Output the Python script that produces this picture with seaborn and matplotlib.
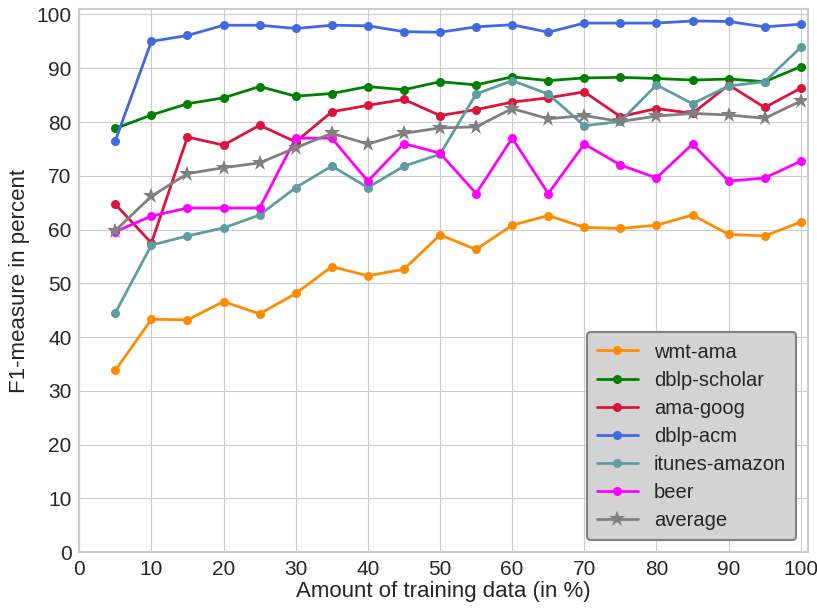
import seaborn as sns
import matplotlib.pyplot as plt
import pandas as pd

train_pct = [5, 10, 15, 20, 25, 30, 35, 40, 45, 50,
             55, 60, 65, 70, 75, 80, 85, 90, 95, 100]

wmt_ama = [33.8, 43.3, 43.2, 46.6, 44.3, 48.1, 53.1, 51.4, 52.6, 59.0,
           56.3, 60.8, 62.6, 60.4, 60.2, 60.8, 62.7, 59.1, 58.8, 61.4]
dblp_scholar = [78.8, 81.3, 83.4, 84.5, 86.6, 84.8, 85.3, 86.6, 86.0, 87.5,
                86.9, 88.4, 87.7, 88.2, 88.3, 88.1, 87.8, 88.0, 87.5, 90.3]
ama_goog = [64.7, 57.5, 77.2, 75.7, 79.4, 76.3, 81.9, 83.1, 84.2, 81.2,
            82.3, 83.7, 84.5, 85.6, 81.0, 82.5, 81.6, 86.9, 82.7, 86.3]
dblp_acm = [76.5, 95.0, 96.1, 98.0, 98.0, 97.4, 98.0, 97.9, 96.8, 96.7,
            97.7, 98.1, 96.7, 98.4, 98.4, 98.4, 98.8, 98.7, 97.7, 98.2]
itunes_amazon = [44.5, 57.1, 58.8, 60.3, 62.7, 67.8, 71.8, 67.8, 71.8, 74.0,
                 85.2, 87.7, 85.2, 79.3, 80.1, 86.9, 83.4, 86.7, 87.5, 93.9]
beer = [59.6, 62.5, 64.0, 64.0, 64.0, 77.0, 77.0, 69.0, 76.0, 74.2,
        66.7, 77.0, 66.7, 75.9, 72.0, 69.6, 75.9, 69.0, 69.6, 72.7]
average = [59.8, 66.2, 70.4, 71.5, 72.4, 75.2, 77.9, 75.9, 77.9, 78.9,
           79.1, 82.5, 80.6, 81.2, 80.1, 81.1, 81.6, 81.3, 80.7, 83.9]

series = [
    ("wmt-ama", wmt_ama, "darkorange", "o"),
    ("dblp-scholar", dblp_scholar, "green", "o"),
    ("ama-goog", ama_goog, "crimson", "o"),
    ("dblp-acm", dblp_acm, "royalblue", "o"),
    ("itunes-amazon", itunes_amazon, "cadetblue", "o"),
    ("beer", beer, "magenta", "o"),
    ("average", average, "gray", "*"),
]

sns.set_style("whitegrid")
plt.rcParams['font.family'] = ['Liberation Sans', 'DejaVu Sans']

fig, ax = plt.subplots(figsize=(8.17, 6.08), dpi=100)

for name, vals, col, mk in series:
    df = pd.DataFrame({'x': train_pct, 'y': vals})
    ms = 12 if mk == "*" else 6.5
    sns.lineplot(data=df, x='x', y='y', color=col, marker=mk, markersize=ms,
                 markeredgewidth=0, linewidth=2, label=name, ax=ax)

ax.set_xlim(0, 101)
ax.set_ylim(0, 101)
ax.set_xticks(range(0, 101, 10))
ax.set_yticks(range(0, 101, 10))
ax.tick_params(labelsize=15, pad=2)
for s in ax.spines.values():
    s.set_visible(True)
    s.set_color('#cccccc')
    s.set_linewidth(1.5)

ax.set_xlabel('Amount of training data (in %)', fontsize=16, labelpad=2)
ax.set_ylabel('F1-measure in percent', fontsize=16, labelpad=5)

leg = ax.legend(loc='lower right', fontsize=14.5, frameon=True, fancybox=True,
                borderpad=0.5, labelspacing=0.45, borderaxespad=0.6)
leg.get_frame().set_facecolor('lightgray')
leg.get_frame().set_edgecolor('gray')
leg.get_frame().set_alpha(1)
leg.get_frame().set_linewidth(1.5)

fig.subplots_adjust(left=0.097, right=0.989, top=0.985, bottom=0.092)
plt.savefig('out.png')
